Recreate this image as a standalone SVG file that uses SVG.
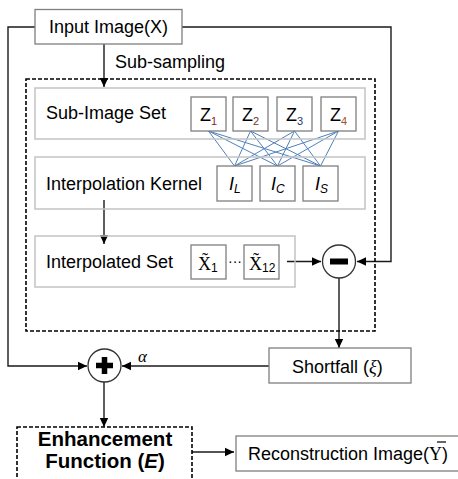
<svg xmlns="http://www.w3.org/2000/svg" width="458" height="479" viewBox="0 0 458 479">
<style>
.t{font-family:"Liberation Sans",Arial,sans-serif;font-size:18px;fill:#000}
.s{font-family:"Liberation Serif","Times New Roman",serif}
.box{fill:#fff;stroke:#7f7f7f;stroke-width:1.3}
.row{fill:none;stroke:#c3c3c3;stroke-width:1.5}
.dash{fill:none;stroke:#000;stroke-width:1.6;stroke-dasharray:4 2}
.ln{fill:none;stroke:#1a1a1a;stroke-width:1.4}
.bl{stroke:#4f81bd;stroke-width:1}
</style>
<defs>
<marker id="ah" markerWidth="10" markerHeight="10" refX="9" refY="5" orient="auto" markerUnits="userSpaceOnUse">
<path d="M0,0.8 L9,5 L0,9.2 Z" fill="#000"/>
</marker>
</defs>
<rect x="0" y="0" width="458" height="479" fill="#fff"/>

<g id="connectors">
<path class="ln" d="M35,27 H8 V366 H87" marker-end="url(#ah)"/>
<path class="ln" d="M182,27 H391 V261.5 H357" marker-end="url(#ah)"/>
<path class="ln" d="M104,44 V87" marker-end="url(#ah)"/>
<path class="ln" d="M104,200 V244" marker-end="url(#ah)"/>
<path class="ln" d="M287,261.5 H321" marker-end="url(#ah)"/>
<path class="ln" d="M339,278 V348" marker-end="url(#ah)"/>
<path class="ln" d="M269,366 H122" marker-end="url(#ah)"/>
<path class="ln" d="M104,382 V427" marker-end="url(#ah)"/>
<path class="ln" d="M192,452 H234" marker-end="url(#ah)"/>
<g class="bl">
<line x1="208.5" y1="131" x2="234.5" y2="166"/>
<line x1="208.5" y1="131" x2="277.5" y2="166"/>
<line x1="208.5" y1="131" x2="320.5" y2="166"/>
<line x1="250.5" y1="131" x2="234.5" y2="166"/>
<line x1="250.5" y1="131" x2="277.5" y2="166"/>
<line x1="250.5" y1="131" x2="320.5" y2="166"/>
<line x1="294.5" y1="131" x2="234.5" y2="166"/>
<line x1="294.5" y1="131" x2="277.5" y2="166"/>
<line x1="294.5" y1="131" x2="320.5" y2="166"/>
<line x1="338.5" y1="131" x2="234.5" y2="166"/>
<line x1="338.5" y1="131" x2="277.5" y2="166"/>
<line x1="338.5" y1="131" x2="320.5" y2="166"/>
</g>
<text class="t" x="115" y="68">Sub-sampling</text>
<text class="s" x="138" y="362" style="font-size:17px;font-style:italic">α</text>
</g>

<g id="input">
<rect class="box" x="35" y="9.5" width="147" height="34.5"/>
<text class="t" x="108.5" y="33" text-anchor="middle">Input Image(X)</text>
</g>

<g id="subsampling-block">
<rect class="dash" x="26" y="79" width="349" height="252"/>
</g>

<g id="subimage-set">
<rect class="row" x="35" y="88" width="330" height="51"/>
<text class="t" x="46" y="119">Sub-Image Set</text>
</g>
<g id="z1"><rect class="box" x="191" y="97" width="35" height="34"/><text class="t" x="200" y="121">Z<tspan style="font-size:11px;fill:#8b2323" dy="4">1</tspan></text></g>
<g id="z2"><rect class="box" x="233" y="97" width="35" height="34"/><text class="t" x="242" y="121">Z<tspan style="font-size:11px;fill:#6b3a1f" dy="4">2</tspan></text></g>
<g id="z3"><rect class="box" x="277" y="97" width="35" height="34"/><text class="t" x="286" y="121">Z<tspan style="font-size:11px;fill:#1f3a6b" dy="4">3</tspan></text></g>
<g id="z4"><rect class="box" x="321" y="97" width="35" height="34"/><text class="t" x="330" y="121">Z<tspan style="font-size:11px;fill:#a0521d" dy="4">4</tspan></text></g>

<g id="interp-kernel">
<rect class="row" x="35" y="157" width="330" height="52"/>
<text class="t" x="46" y="190">Interpolation Kernel</text>
</g>
<g id="il"><rect class="box" x="217" y="166" width="35" height="35"/><text class="t" x="229" y="190" style="font-style:italic">I<tspan style="font-size:12px" dy="3">L</tspan></text></g>
<g id="ic"><rect class="box" x="260" y="166" width="35" height="35"/><text class="t" x="271" y="190" style="font-style:italic">I<tspan style="font-size:12px" dy="3">C</tspan></text></g>
<g id="is"><rect class="box" x="303" y="166" width="35" height="35"/><text class="t" x="315" y="190" style="font-style:italic">I<tspan style="font-size:12px" dy="3">S</tspan></text></g>

<g id="interp-set">
<rect class="row" x="35" y="236" width="260" height="51"/>
<text class="t" x="46" y="268">Interpolated Set</text>
<text class="t" x="235" y="266" text-anchor="middle" style="font-size:14px">···</text>
</g>
<g id="x1"><rect class="box" x="191" y="245" width="35" height="34"/><text class="s" x="198" y="270" style="font-size:18px">X̃<tspan style="font-family:'Liberation Sans',Arial,sans-serif;font-size:12px" dy="2">1</tspan></text></g>
<g id="x12"><rect class="box" x="244" y="245" width="35" height="34"/><text class="s" x="249" y="270" style="font-size:18px">X̃<tspan style="font-family:'Liberation Sans',Arial,sans-serif;font-size:12px" dy="2">12</tspan></text></g>

<g id="minus">
<circle cx="339" cy="261.5" r="16.5" fill="#fff" stroke="#333" stroke-width="1.3"/>
<rect x="330" y="258.5" width="18" height="6" fill="#000"/>
</g>

<g id="shortfall">
<rect class="box" x="269" y="348" width="142" height="35"/>
<text class="t" x="292" y="373">Shortfall (<tspan class="s" style="font-style:italic">ξ</tspan>)</text>
</g>

<g id="plus">
<circle cx="104.5" cy="365.5" r="16.5" fill="#fff" stroke="#333" stroke-width="1.3"/>
<path d="M104.5,357 V374 M96,365.5 H113" stroke="#000" stroke-width="5.5"/>
</g>

<g id="enhancement">
<rect class="dash" x="17" y="427" width="175" height="60"/>
<text class="t" x="105" y="446" text-anchor="middle" style="font-size:20.5px;font-weight:bold">Enhancement</text>
<text class="t" x="105" y="468" text-anchor="middle" style="font-size:20.5px;font-weight:bold">Function (<tspan style="font-style:italic">E</tspan>)</text>
</g>

<g id="reconstruction">
<rect class="box" x="236" y="436" width="230" height="35"/>
<text class="t" x="248" y="460">Reconstruction Image(<tspan class="s">Y</tspan>)</text>
<line x1="437" y1="442" x2="446" y2="442" stroke="#000" stroke-width="1.2"/>
</g>
</svg>
